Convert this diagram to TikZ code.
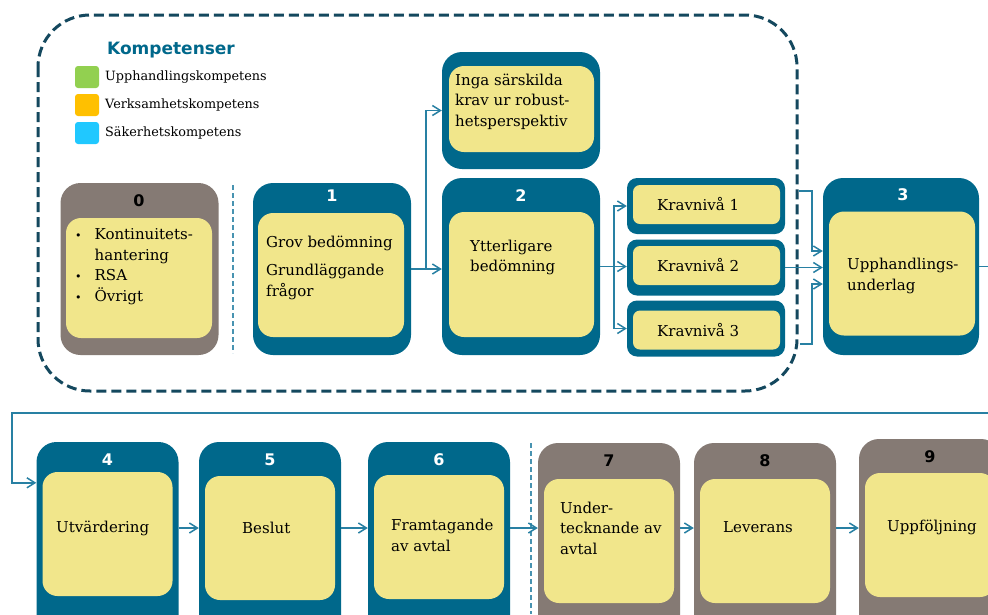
\documentclass[tikz,border=0pt]{standalone}
\usepackage{fontspec}
\setmainfont{DejaVu Serif}
\setsansfont{DejaVu Sans}
\usetikzlibrary{arrows.meta,positioning,calc}
\definecolor{petrol}{RGB}{0,104,139}
\definecolor{stone}{RGB}{133,122,116}
\definecolor{sand}{RGB}{241,230,139}
\definecolor{deep}{RGB}{20,72,94}
\definecolor{wire}{RGB}{40,128,163}
\definecolor{grass}{RGB}{146,208,80}
\definecolor{gold}{RGB}{255,192,0}
\definecolor{sky}{RGB}{32,200,255}
\newcommand{\dotmark}{{\fontsize{11}{11}\selectfont •}}
\tikzset{
  >={Straight Barb[length=8pt,width=10pt]},
  shell/.style={fill=#1,rounded corners=20pt,minimum width=158pt,minimum height=172pt,inner sep=0pt},
  shell/.default=petrol,
  core/.style={fill=sand,rounded corners=15pt,minimum width=146pt,minimum height=124pt,inner sep=0pt},
  num/.style={font=\sffamily\bfseries\fontsize{16}{16}\selectfont,text=#1,inner sep=0pt},
  num/.default=white,
  txt/.style={anchor=west,align=left,inner sep=0pt,font=\fontsize{15}{20.5}\selectfont},
  flow/.style={->,draw=wire,line width=1.5pt},
  divider/.style={draw=wire!85,line width=1.4pt,dash pattern=on 5pt off 3pt},
  region/.style={draw=deep,line width=3pt,dash pattern=on 10pt off 5pt,rounded corners=52pt},
  chip/.style={fill=#1,rounded corners=3pt,minimum width=24pt,minimum height=22pt,inner sep=0pt},
  legtext/.style={anchor=west,inner sep=0pt,font=\fontsize{12.8}{14}\selectfont},
}

\begin{document}
\begin{tikzpicture}[x=1pt,y=-1pt]
  \useasboundingbox (0,0) rectangle (988,614);
  \fill[white] (0,0) rectangle (988,614);
  \clip (0,0) rectangle (988,614);
  % dashed frame round steps 0--3
  \draw[region] (38,15) rectangle (797,391);
  \node[font=\sffamily\bfseries\fontsize{17}{17}\selectfont,text=petrol] (legtitle) at (171,50) {Kompetenser};
  \foreach \i/\c/\t in {0/grass/Upphandlingskompetens,1/gold/Verksamhetskompetens,2/sky/Säkerhetskompetens} {
    \node[chip=\c] (chip\i) at (87,{77+28*\i}) {};
    \node[legtext] (leg\i) at (105,{77+28*\i}) {\t};
  }
  % top row
  \node[shell=stone] (b0) at (139.5,269) {};
  \node[core,minimum height=120pt] (c0) at (139,278) {};
  \node[num=black] (n0) at (139,201) {0};
  \node[txt] (t0) at (75,266.5) {\begin{tabular}{@{}l@{\hspace{13pt}}l@{}}
    \dotmark & Kontinuitets-\\ & hantering\\ \dotmark & RSA\\ \dotmark & Övrigt\end{tabular}};
  \draw[divider] (233,185) -- (233,353);
  \node[shell] (b1) at (332,269) {};
  \node[core] (c1) at (331,275) {};
  \node[num] (n1) at (332,196) {1};
  \node[txt] (t1) at (266,267.5) {Grov bedömning\\[8pt]Grundläggande\\frågor};
  \node[shell,minimum height=117pt] (ib) at (521,110.5) {};
  \node[core,minimum width=145pt,minimum height=86pt] (ic) at (521.5,109) {};
  \node[txt] (it) at (455,101.5) {Inga särskilda\\krav ur robust-\\hetsperspektiv};
  \node[shell,minimum height=177pt] (b2) at (521,266.5) {};
  \node[core,minimum width=145pt,minimum height=125pt] (c2) at (521.5,274.5) {};
  \node[num] (n2) at (521,196) {2};
  \node[txt] (t2) at (470,257.5) {Ytterligare\\bedömning};
  \foreach \k/\y/\yi in {1/206/204.5,2/267.5/265.5,3/328.5/330} {
    \node[shell,rounded corners=10pt,minimum height=56pt] (k\k) at (706,\y) {};
    \node[core,rounded corners=7pt,minimum width=147pt,minimum height=39pt] (kc\k) at (706.5,\yi) {};
    \node[txt] (kt\k) at (657,\yi) {Kravnivå \k};
  }
  \node[shell,minimum width=156pt,minimum height=177pt] (b3) at (901,266.5) {};
  \node[core] (c3) at (902,273.5) {};
  \node[num] (n3) at (903,195) {3};
  \node[txt] (t3) at (847,276) {Upphandlings-\\underlag};
  % bottom row
  \foreach \n/\x/\yo/\yi/\c/\tc in {4/107.5/442/534/petrol/white,5/270/442/538/petrol/white,
      6/439/442/537/petrol/white,7/609/443/541/stone/black,8/765/443/541/stone/black,9/930/439/535/stone/black} {
    \node[shell=\c,minimum width=142pt,minimum height=200pt] (b\n) at (\x,{\yo+100}) {};
    \node[core,minimum width=130pt] (c\n) at (\x,\yi) {};
    \node[num=\tc] (n\n) at (\x,{\yo+18}) {\n};
  }
  \draw[divider] (531,443) -- (531,614);
  \node[txt] (t4) at (56,528) {Utvärdering};
  \node[txt] (t5) at (242,528) {Beslut};
  \node[txt] (t6) at (391,535.5) {Framtagande\\av avtal};
  \node[txt] (t7) at (560,528) {Under-\\tecknande av\\avtal};
  \node[txt] (t8) at (723,527) {Leverans};
  \node[txt] (t9) at (887,527) {Uppföljning};
  % connectors
  \coordinate (turn) at (12,413);
  \draw[flow] (b1.east) -- ++(15,0) |- (ib.west);
  \draw[flow] (b1.east) -- (b1.east -| b2.west);
  \draw[flow] (b2.east) -- ++(14,0) |- (k1.west);
  \draw[flow] (b2.east) -- (b2.east -| k2.west);
  \draw[flow] (b2.east) -- ++(14,0) |- (k3.west);
  \draw[flow,shorten <=14pt] ([yshift=15pt]k1.east) -- ++(27,0) |- ([yshift=15.5pt]b3.west);
  \draw[flow] (k2.east) -- (k2.east -| b3.west);
  \draw[flow,shorten <=15pt] ([yshift=-15.5pt]k3.east) -- ++(27,0) |- ([yshift=-17.5pt]b3.west);
  \draw[flow] (b3.east) -- ++(40,0) |- (turn) |- ([yshift=-41pt]b4.north west);
  \draw[flow] (b4.east |- t4) -- (b5.west |- t4);
  \draw[flow] (b5.east |- t4) -- (b6.west |- t4);
  \draw[flow] (b6.east |- t4) -- (b7.west |- t4);
  \draw[flow] (b7.east |- t4) -- (b8.west |- t4);
  \draw[flow] (b8.east |- t4) -- (b9.west |- t4);
\end{tikzpicture}
\end{document}
